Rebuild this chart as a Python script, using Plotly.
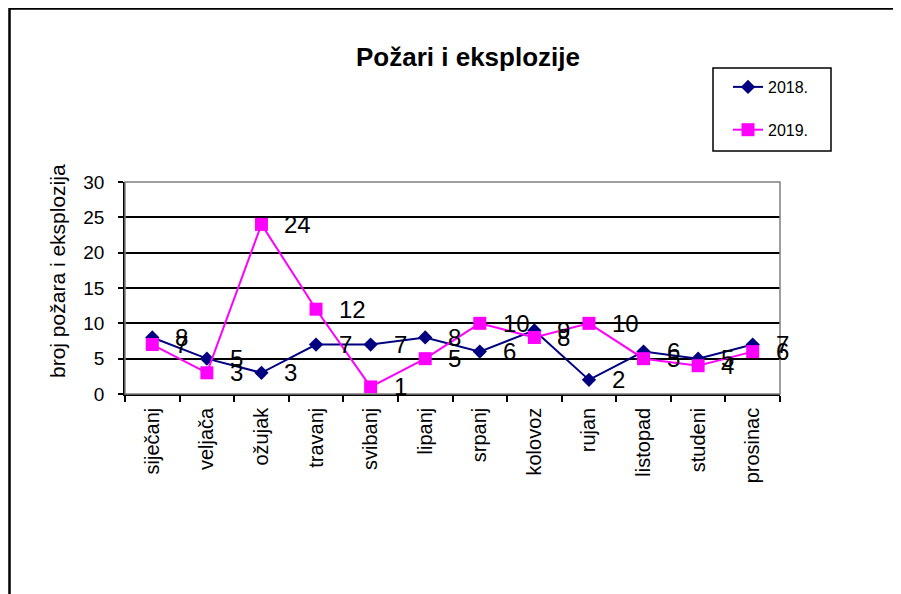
import plotly.graph_objects as go

months = ["siječanj", "veljača", "ožujak", "travanj", "svibanj", "lipanj",
          "srpanj", "kolovoz", "rujan", "listopad", "studeni", "prosinac"]
y2018 = [8, 5, 3, 7, 7, 8, 6, 9, 2, 6, 5, 7]
y2019 = [7, 3, 24, 12, 1, 5, 10, 8, 10, 5, 4, 6]
series_names = ["2018.", "2019."]
y_ticks = [0, 5, 10, 15, 20, 25, 30]

FONT = "Liberation Sans, Arial, sans-serif"
OFF = 8  # page body margin of the browser
W, H = 901 - OFF, 594 - OFF
# plot area in screen pixels: x 125..780, y 182..394
L = 125 - OFF
T = 182 - OFF
R = W - (780 - OFF)
B = H - (394 - OFF)
PW, PH = W - L - R, H - T - B


def px(xs):
    return (xs - OFF - L) / PW


def py(ys):
    return (H - B - (ys - OFF)) / PH


fig = go.Figure()
fig.add_trace(go.Scatter(
    x=months, y=y2018, name=series_names[0], mode="lines+markers",
    line=dict(color="#000080", width=2),
    marker=dict(symbol="diamond", size=11, color="#000080"),
    legendgroup="a"))
fig.add_trace(go.Scatter(
    x=months, y=y2019, name=series_names[1], mode="lines+markers",
    line=dict(color="#FF00FF", width=2),
    marker=dict(symbol="square", size=13, color="#FF00FF"),
    legendgroup="b"))

annotations = []
for vals in (y2018, y2019):
    for m, v in zip(months, vals):
        annotations.append(dict(
            x=m, y=v, xref="x", yref="y", text=str(v), showarrow=False,
            xanchor="left", yanchor="middle", xshift=21,
            font=dict(family=FONT, size=24, color="black")))

annotations.append(dict(
    x=px(57), y=py(271), xref="paper", yref="paper",
    text="broj požara i eksplozija", textangle=-90, showarrow=False,
    xanchor="center", yanchor="middle",
    font=dict(family=FONT, size=21, color="black")))

shapes = [
    # outer chart frame
    dict(type="rect", xref="paper", yref="paper",
         x0=px(9.5), x1=px(960), y0=py(660), y1=py(8.5),
         line=dict(color="black", width=2.5), layer="below"),
    # plot area border (gray)
    dict(type="rect", xref="paper", yref="paper", x0=0, x1=1, y0=0, y1=1,
         line=dict(color="#808080", width=1.5), layer="above"),
    # legend box
    dict(type="rect", xref="paper", yref="paper",
         x0=px(713), x1=px(831), y0=py(151), y1=py(68),
         line=dict(color="black", width=1.5), layer="above"),
]

fig.update_layout(
    width=W, height=H,
    margin=dict(l=L, r=R, t=T, b=B, pad=0),
    paper_bgcolor="white", plot_bgcolor="white",
    font=dict(family=FONT, color="black"),
    title=dict(text="<b>Požari i eksplozije</b>", x=px(468), xref="paper",
               xanchor="center", y=1 - (57 - OFF) / H, yref="container",
               yanchor="middle", font=dict(family=FONT, size=26, color="black")),
    showlegend=True,
    legend=dict(x=px(728), y=py(70), xanchor="left", yanchor="top",
                xref="paper", yref="paper",
                bgcolor="rgba(0,0,0,0)", borderwidth=0,
                tracegroupgap=19,
                font=dict(family=FONT, size=16, color="black")),
    xaxis=dict(type="category", range=[-0.5, 11.5], tickson="boundaries",
               ticks="outside", ticklen=6, tickcolor="black", tickwidth=1.5,
               showline=True, linecolor="black", linewidth=1.5,
               showgrid=False, tickangle=-90, ticklabelstandoff=4,
               tickfont=dict(family=FONT, size=20, color="black")),
    yaxis=dict(range=[0, 30], tickvals=y_ticks, ticks="outside", ticklen=5,
               tickcolor="black", tickwidth=1.5, showline=True,
               linecolor="black", linewidth=1.5, showgrid=True,
               gridcolor="black", gridwidth=1.5, zeroline=False,
               ticklabelstandoff=10,
               tickfont=dict(family=FONT, size=19, color="black")),
    annotations=annotations,
    shapes=shapes,
)

fig.write_html("out.html")
